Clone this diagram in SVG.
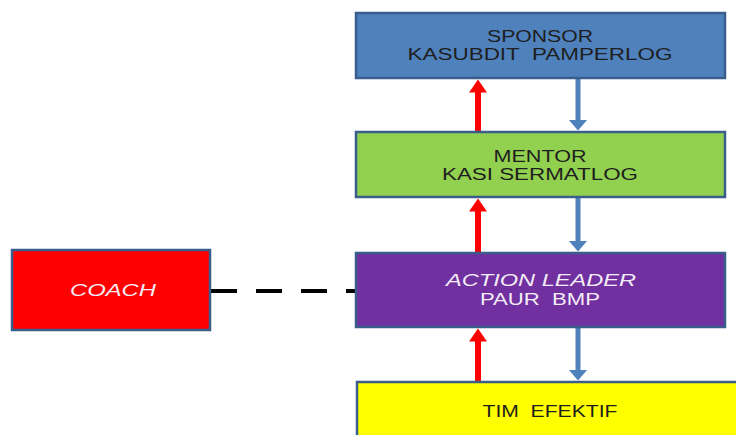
<svg xmlns="http://www.w3.org/2000/svg" width="736" height="435" viewBox="0 0 736 435">
  <style>
    .box { stroke: #3A5E8C; stroke-width: 2.5; }
    .lbl { font-family: "Liberation Sans", Arial, sans-serif; font-size: 16px; text-anchor: middle; fill: #1E1E1E; white-space: pre; }
    .light { fill: #F4ECF6; }
    .it { font-style: italic; }
    .up { stroke: #FF0000; stroke-width: 6; fill: none; }
    .down { stroke: #4F81BD; stroke-width: 5; fill: none; }
  </style>
  <defs>
    <marker id="headRed" markerUnits="userSpaceOnUse" markerWidth="14" markerHeight="18" refX="0.5" refY="9" orient="auto">
      <path d="M0,0 L13,9 L0,18 Z" fill="#FF0000"/>
    </marker>
    <marker id="headBlue" markerUnits="userSpaceOnUse" markerWidth="12" markerHeight="20" refX="0.5" refY="9.5" orient="auto">
      <path d="M0,0 L11,9.5 L0,19 Z" fill="#4F81BD"/>
    </marker>
  </defs>
  <rect width="736" height="435" fill="#FFFFFF"/>

  <g id="connectors">
    <line class="up" x1="478" y1="132" x2="478" y2="92" marker-end="url(#headRed)"/>
    <line class="up" x1="478" y1="253" x2="478" y2="211" marker-end="url(#headRed)"/>
    <line class="up" x1="478" y1="382" x2="478" y2="341" marker-end="url(#headRed)"/>
    <line class="down" x1="578" y1="78" x2="578" y2="120" marker-end="url(#headBlue)"/>
    <line class="down" x1="578" y1="197" x2="578" y2="241" marker-end="url(#headBlue)"/>
    <line class="down" x1="578" y1="327" x2="578" y2="370" marker-end="url(#headBlue)"/>
    <line x1="211" y1="291" x2="356" y2="291" stroke="#000000" stroke-width="4" stroke-dasharray="26 19"/>
  </g>

  <g id="sponsor">
    <rect class="box" x="356" y="13" width="369" height="65" fill="#4F81BD"/>
    <text class="lbl" x="540" y="42" textLength="106" lengthAdjust="spacingAndGlyphs">SPONSOR</text>
    <text class="lbl" x="540" y="60" textLength="265" lengthAdjust="spacingAndGlyphs" xml:space="preserve">KASUBDIT  PAMPERLOG</text>
  </g>

  <g id="mentor">
    <rect class="box" x="356" y="132" width="369" height="65" fill="#92D050"/>
    <text class="lbl" x="540" y="162" textLength="93" lengthAdjust="spacingAndGlyphs">MENTOR</text>
    <text class="lbl" x="540" y="180" textLength="196" lengthAdjust="spacingAndGlyphs">KASI SERMATLOG</text>
  </g>

  <g id="action-leader">
    <rect class="box" x="356" y="253" width="369" height="74" fill="#7030A0"/>
    <text class="lbl light it" x="541" y="286" textLength="190" lengthAdjust="spacingAndGlyphs">ACTION LEADER</text>
    <text class="lbl light" x="540" y="305" textLength="120" lengthAdjust="spacingAndGlyphs" xml:space="preserve">PAUR  BMP</text>
  </g>

  <g id="coach">
    <rect class="box" x="12" y="250" width="198" height="80" fill="#FF0000"/>
    <text class="lbl light it" x="113" y="296" textLength="86" lengthAdjust="spacingAndGlyphs">COACH</text>
  </g>

  <g id="tim-efektif">
    <rect class="box" x="357" y="382" width="400" height="80" fill="#FFFF00"/>
    <text class="lbl" x="550" y="417" textLength="135" lengthAdjust="spacingAndGlyphs" xml:space="preserve">TIM  EFEKTIF</text>
  </g>
</svg>
